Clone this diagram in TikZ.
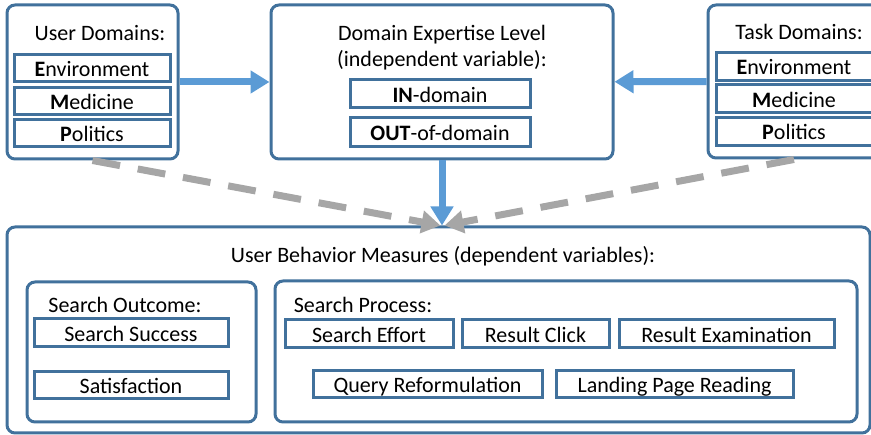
\documentclass[tikz,border=0pt]{standalone}
\usepackage{fontspec}
\setmainfont{Carlito}
\usetikzlibrary{arrows.meta}

\definecolor{boxblue}{RGB}{65,113,156}
\definecolor{flowblue}{RGB}{91,155,213}
\definecolor{linkgray}{RGB}{166,166,166}

\begin{document}
\begin{tikzpicture}
    [x=1pt, y=-1pt,
    every node/.style={inner sep=0pt, font=\fontsize{22pt}{26pt}\selectfont},
    outerbox/.style={draw=boxblue, line width=3pt, rounded corners=8pt, fill=white},
    itembox/.style={draw=boxblue, line width=3pt, fill=white, text height=17pt, text depth=0pt},
    title/.style={anchor=base},
    flow/.style={draw=flowblue, line width=7pt, -{Triangle[length=19pt,width=22pt]}},
    link/.style={draw=linkgray, line width=7pt, dash pattern=on 28pt off 18pt,
      -{Triangle[length=19pt,width=22pt]}}]
    \clip (0,0) rectangle (871,435);
    \useasboundingbox (0,0) rectangle (871,435);

    % user domains
    \node[outerbox, minimum width=171pt, minimum height=154pt] (ud) at (92.5,82) {};
    \node[title] (udt) at (100,41) {User Domains:};
    \node[itembox, minimum width=156pt, minimum height=27pt] (ud-1) at (92,68.5) {\textbf{E}nvironment};
    \node[itembox, minimum width=156pt, minimum height=27pt] (ud-2) at (92,101) {\textbf{M}edicine};
    \node[itembox, minimum width=156pt, minimum height=27pt] (ud-3) at (92,133) {\textbf{P}olitics};

    % expertise level
    \node[outerbox, minimum width=342pt, minimum height=154pt] (del) at (442,82) {};
    \node[title] (delt) at (442,41) {Domain Expertise Level};
    \node[title] (delt-2) at (442,67) {(independent variable):};
    \node[itembox, minimum width=180pt, minimum height=28pt] (del-1) at (440,94) {\textbf{IN}-domain};
    \node[itembox, minimum width=180pt, minimum height=29pt] (del-2) at (440,132.5) {\textbf{OUT}-of-domain};

    % task domains
    \node[outerbox, minimum width=172pt, minimum height=153pt] (td) at (794,81.5) {};
    \node[title] (tdt) at (799,40) {Task Domains:};
    \node[itembox, minimum width=156pt, minimum height=28pt] (td-1) at (794,66.5) {\textbf{E}nvironment};
    \node[itembox, minimum width=156pt, minimum height=28pt] (td-2) at (794,99) {\textbf{M}edicine};
    \node[itembox, minimum width=156pt, minimum height=28pt] (td-3) at (794,131.5) {\textbf{P}olitics};

    % behavior measures
    \node[outerbox, minimum width=863pt, minimum height=206pt] (ubm) at (438.5,330) {};
    \node[title] (ubmt) at (443,263) {User Behavior Measures (dependent variables):};

    \node[outerbox, minimum width=229pt, minimum height=140pt] (so) at (141.5,352) {};
    \node[title] (sot) at (125,313) {Search Outcome:};
    \node[itembox, minimum width=194pt, minimum height=28pt] (so-1) at (131,333) {Search Success};
    \node[itembox, minimum width=194pt, minimum height=27pt] (so-2) at (131,385.5) {Satisfaction};

    \node[outerbox, minimum width=582pt, minimum height=141pt] (sp) at (566,351.5) {};
    \node[title] (spt) at (363,313) {Search Process:};
    \node[itembox, minimum width=168pt, minimum height=28pt] (sp-1) at (369,334) {Search Effort};
    \node[itembox, minimum width=147pt, minimum height=28pt] (sp-2) at (535.5,334) {Result Click};
    \node[itembox, minimum width=215pt, minimum height=28pt] (sp-3) at (726.5,334) {Result Examination};
    \node[itembox, minimum width=229pt, minimum height=27pt] (sp-4) at (427.5,384.5) {Query Reformulation};
    \node[itembox, minimum width=237pt, minimum height=27pt] (sp-5) at (674.5,384.5) {Landing Page Reading};

    \draw[link] (ud.south) -- ([xshift=2pt]ubm.north);
    \draw[link] (td.south) -- ([xshift=6pt]ubm.north);
    \draw[flow] (ud) -- (del);
    \draw[flow] (td) -- (del);
    \draw[flow] (del.south) -- (del.south |- ubm.north);
  \end{tikzpicture}
\end{document}
